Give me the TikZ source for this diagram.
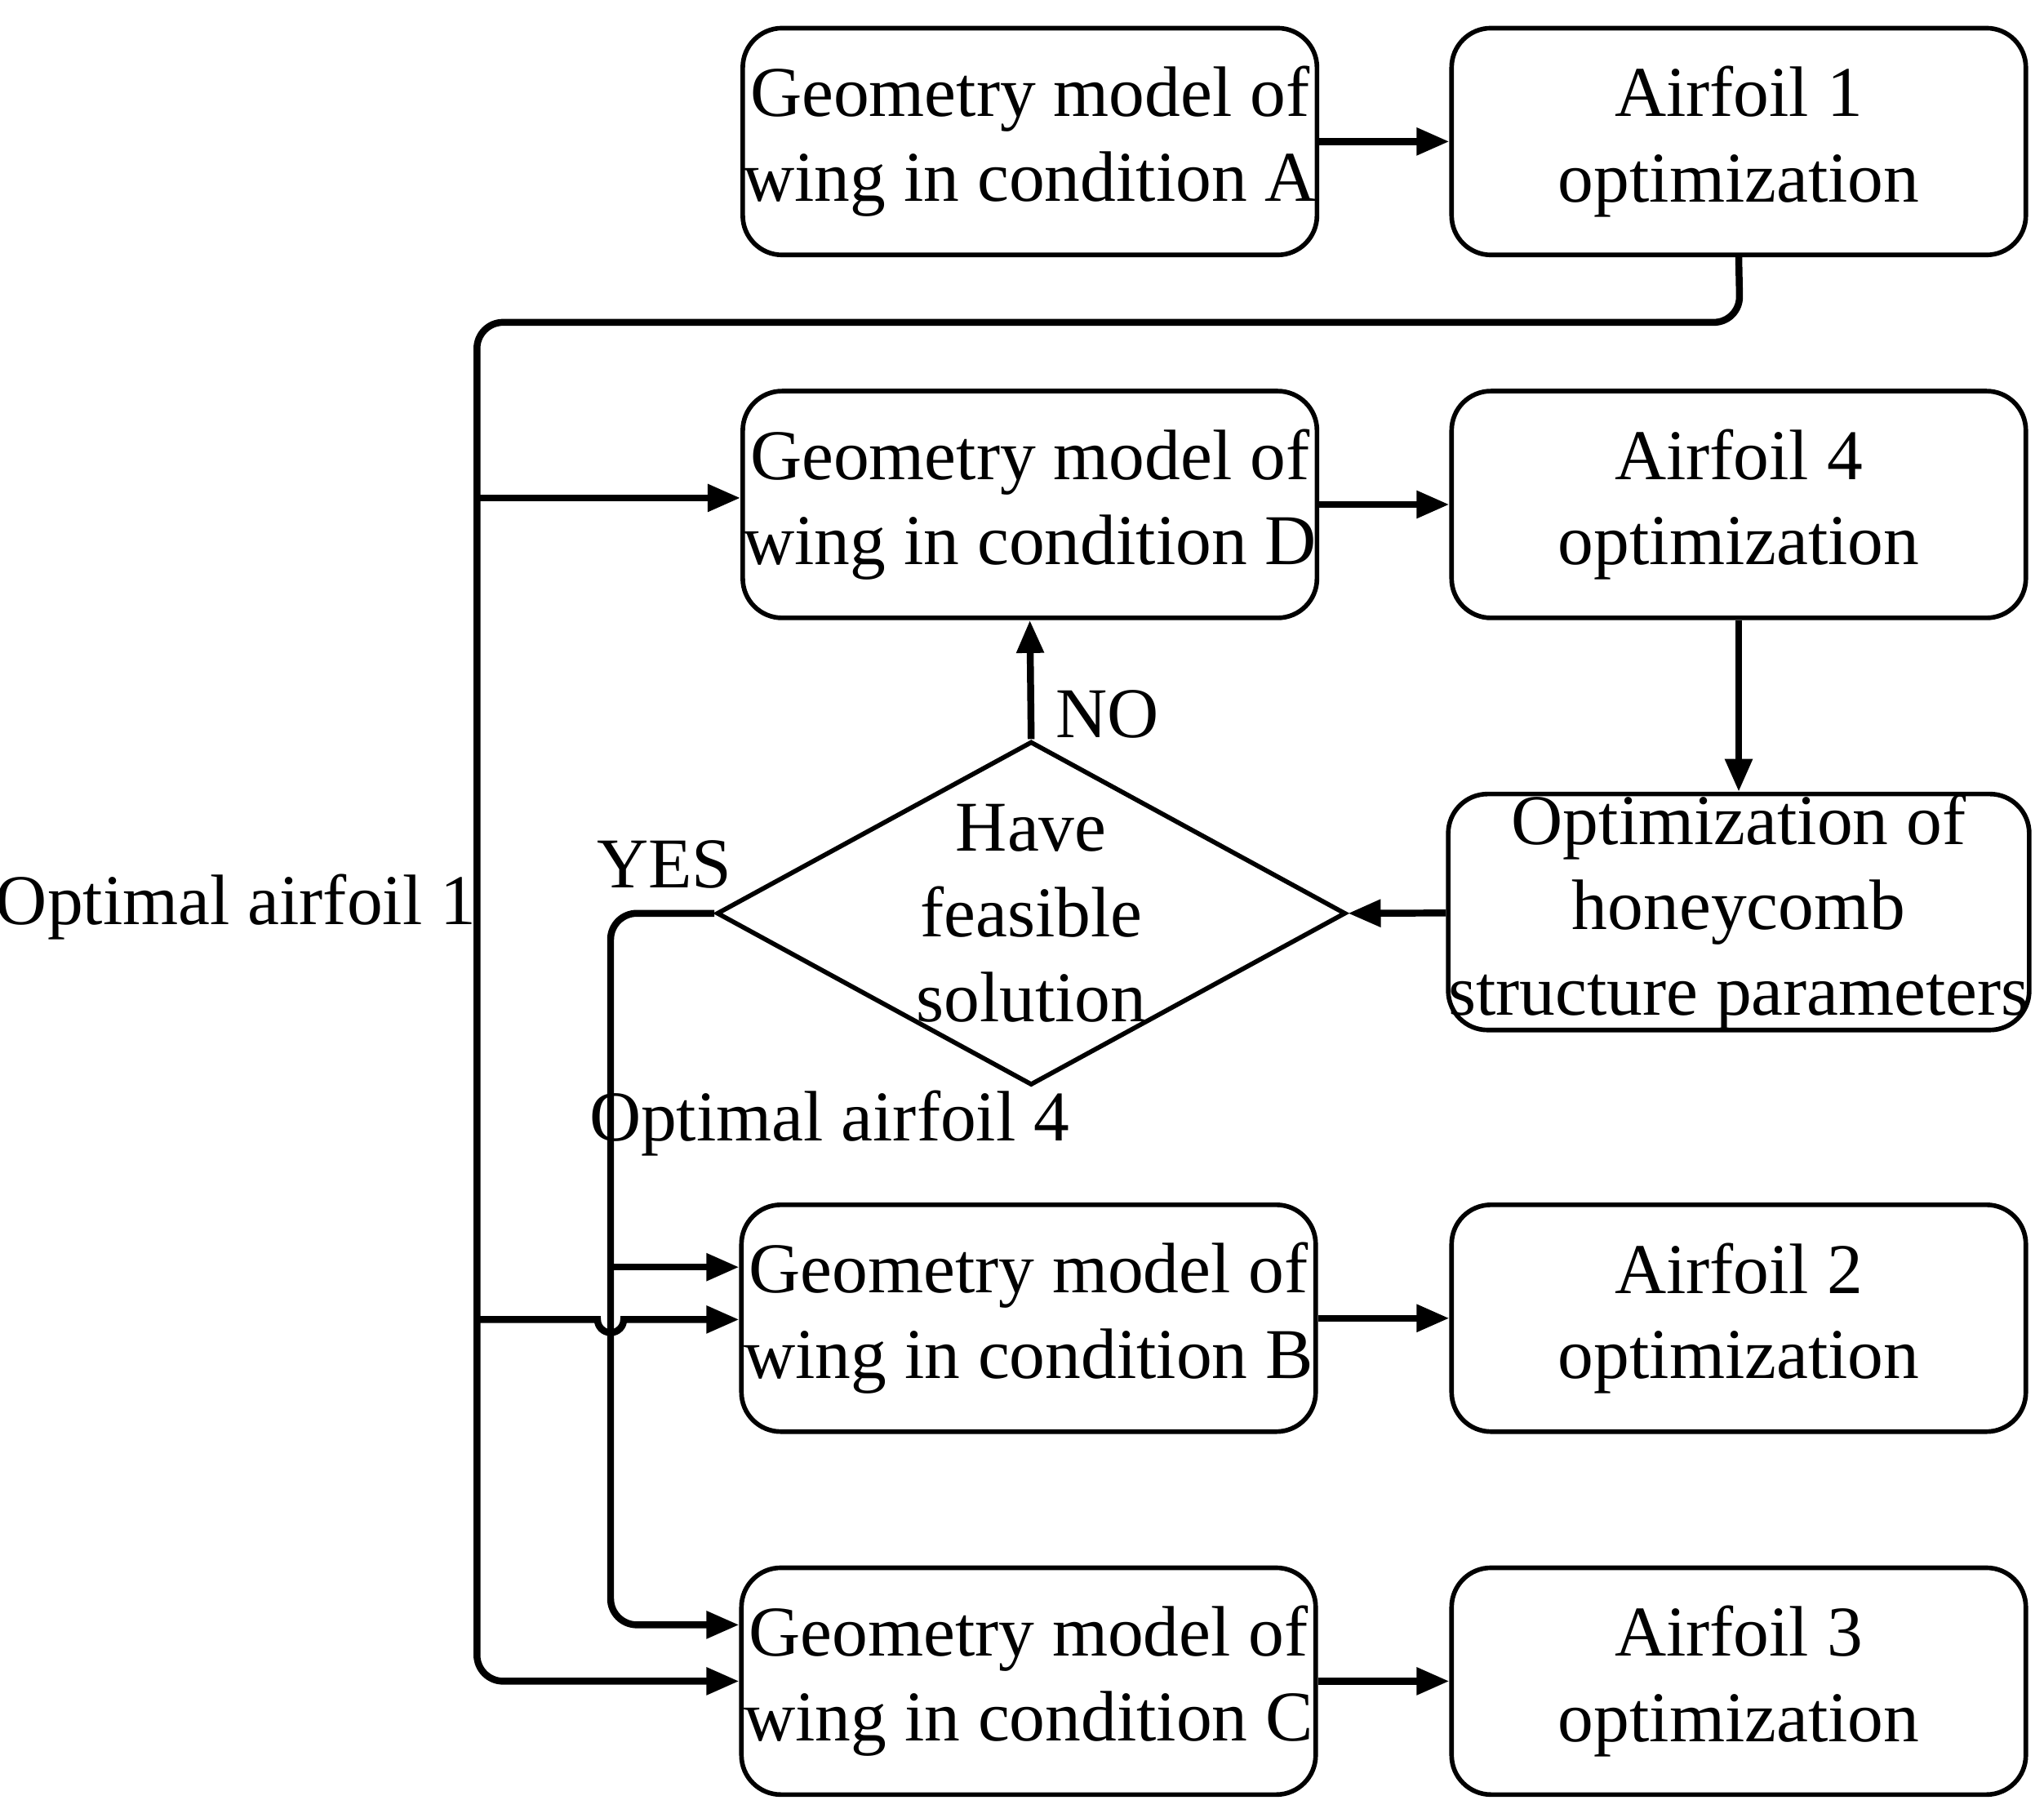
\documentclass[tikz,border=0pt]{standalone}
\usepackage{fontspec}
\setmainfont{Liberation Serif}
\usetikzlibrary{arrows.meta,shapes.geometric}
\begin{document}
\begin{tikzpicture}[x=0.01cm,y=-0.01cm,
  box/.style={draw,line width=1pt,rounded corners=0.3cm,minimum width=4.38cm,minimum height=1.73cm,align=center,font=\fontsize{15.5}{18.5}\selectfont,inner sep=0pt},
  ln/.style={line width=1.5pt},
  ar/.style={ln,-{Triangle[length=0.25cm,width=0.2cm]}},
  lbl/.style={font=\fontsize{15.5}{18.5}\selectfont}]
\useasboundingbox (0,0) rectangle (1560,1387);
\node[box] (A) at (786,108) {Geometry model of\\wing in condition A};
\node[box] (F1) at (1327,108) {Airfoil 1\\optimization};
\node[box] (D) at (786,385) {Geometry model of\\wing in condition D};
\node[box] (F4) at (1327,385) {Airfoil 4\\optimization};
\node[box] (H) at (1327,696) {Optimization of\\honeycomb\\structure parameters};
\node[draw,line width=1pt,diamond,aspect=1.83,minimum width=4.4cm,minimum height=2.4cm,inner sep=0pt,align=center,font=\fontsize{15.5}{18.5}\selectfont] (Q) at (787,697) {Have\\feasible\\solution};
\node[box] (B) at (785,1006) {Geometry model of\\wing in condition B};
\node[box] (F2) at (1327,1006) {Airfoil 2\\optimization};
\node[box] (C) at (785,1283) {Geometry model of\\wing in condition C};
\node[box] (F3) at (1327,1283) {Airfoil 3\\optimization};
\foreach \a/\b in {A/F1,D/F4,B/F2,C/F3} \draw[ar] (\a) -- (\b);
\draw[ar] (F4) -- (H);
\draw[ar] (H) -- (Q.east);
\draw[ar] (Q.north) -- (D.south);
\coordinate (j1) at (364,246);
\draw[ar,rounded corners=0.2cm] (F1.south) -- (1328,246) -- (364,246) -- (364,1283) -- (C.west|-0,1283);
\draw[ar] (364,380) -- (D.west|-0,380);
\draw[ar] (364,1007) -- (456,1007) arc (180:0:10) -- (B.west|-0,1007);
\draw[ar,rounded corners=0.2cm] (Q.west) -- (466,697) -- (466,1240) -- (C.west|-0,1240);
\draw[ar] (466,967) -- (B.west|-0,967);
\node[lbl] (l1) at (180,692) {Optimal airfoil 1};
\node[lbl] (l2) at (507,660) {YES};
\node[lbl] (l3) at (845,545) {NO};
\node[lbl] (l4) at (633,857) {Optimal airfoil 4};
\end{tikzpicture}
\end{document}
